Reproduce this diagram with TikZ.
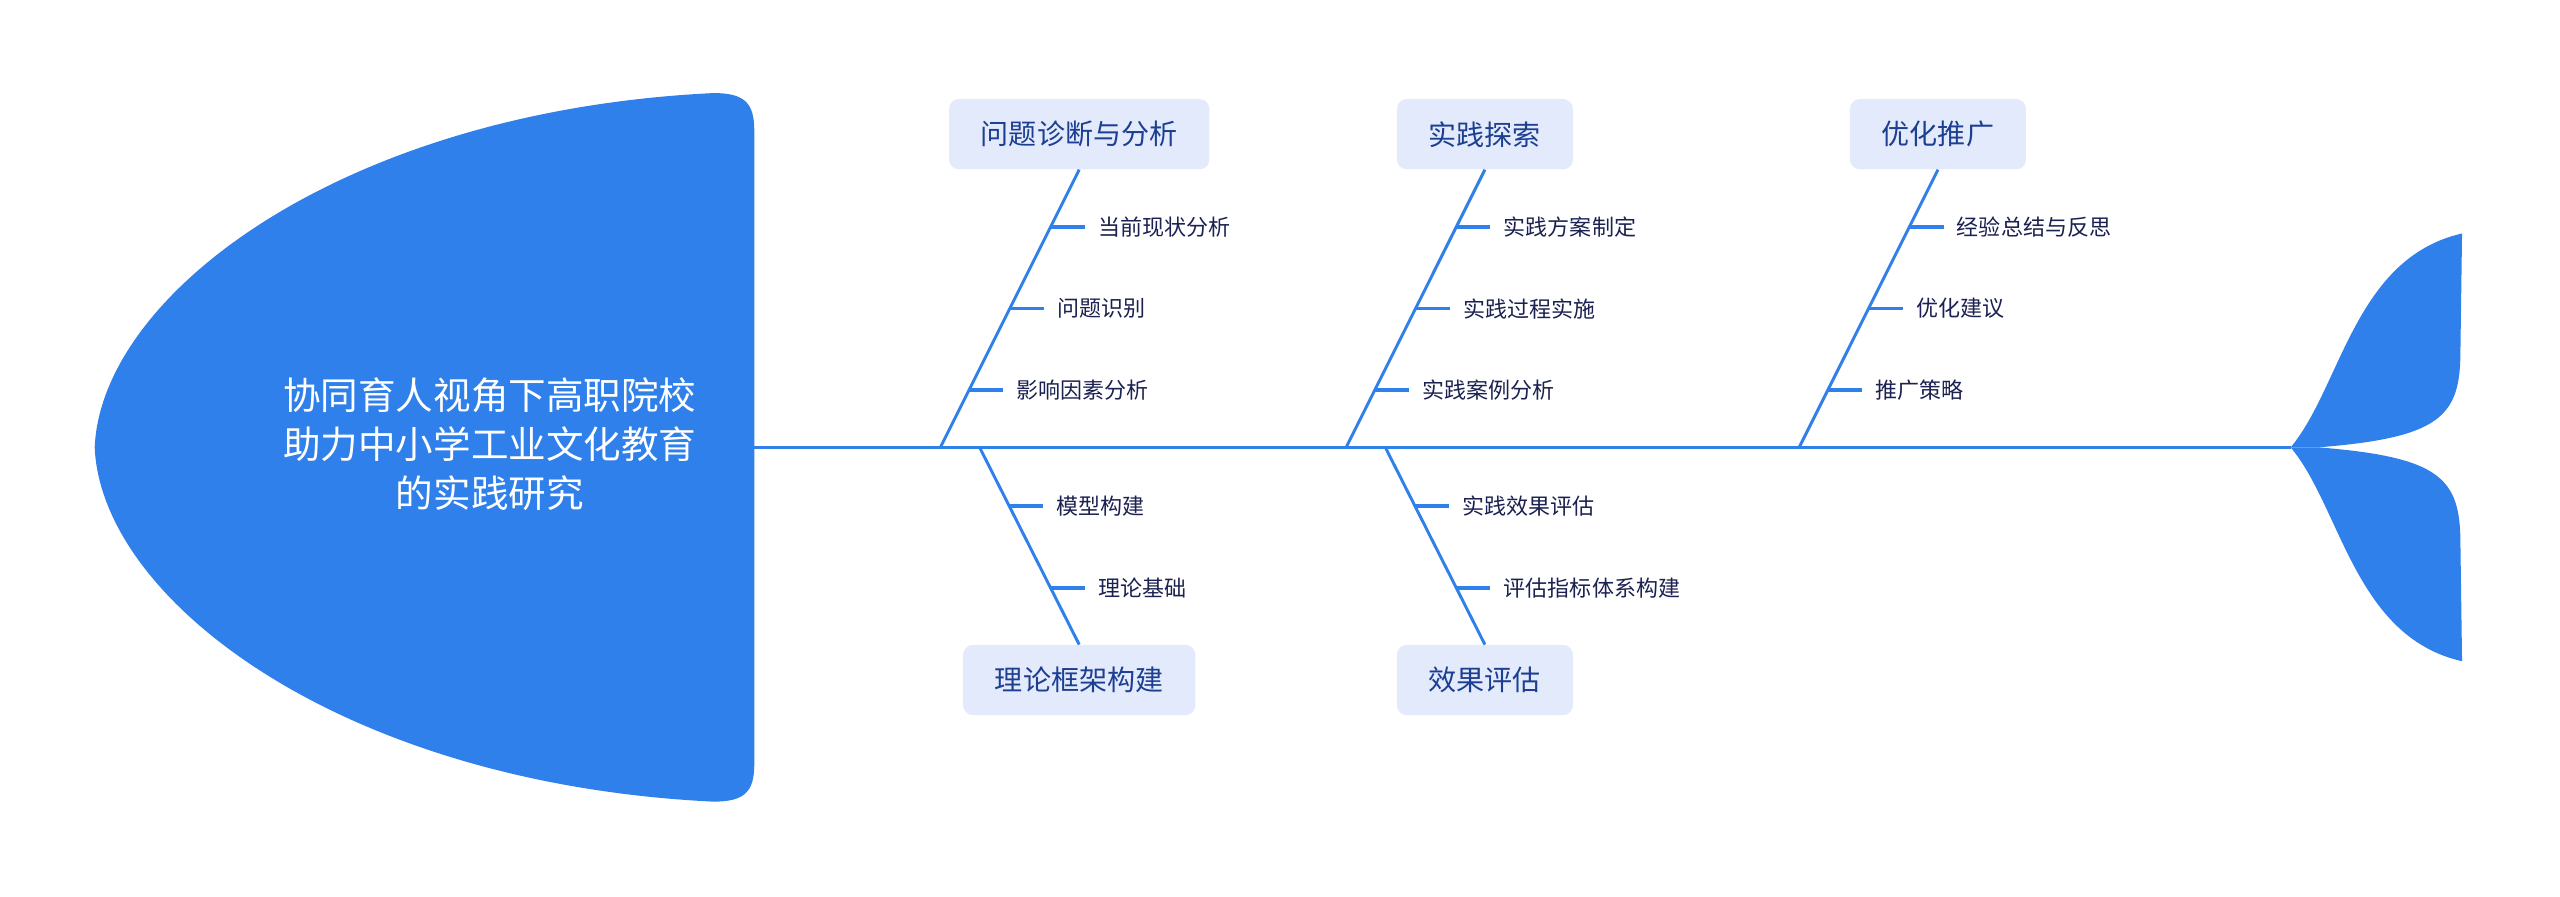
\documentclass[tikz,border=0pt]{standalone}
\usepackage{fontspec}
\setmainfont{Noto Sans CJK SC}
\usetikzlibrary{positioning}

\definecolor{fishblue}{HTML}{2F80EA}
\definecolor{bonelight}{HTML}{E3EAFB}
\definecolor{bonetext}{HTML}{1D3F92}
\definecolor{leaftext}{HTML}{1B2150}

\tikzset{
	bone/.style={draw=fishblue,line width=1.8pt},
	tick/.style={draw=fishblue,line width=2.2pt},
	catbox/.style={fill=bonelight,text=bonetext,rounded corners=6pt,minimum height=43pt,inner xsep=19.5pt,font=\fontsize{17.2}{20}\selectfont},
	leaf/.style={text=leaftext,inner sep=0pt,font=\fontsize{13.5}{16}\selectfont},
}

\begin{document}
\begin{tikzpicture}[x=1pt,y=-1pt]
	\def\sy{274} %height of spine
	\def\ax{661} \def\bx{909.5} \def\cx{1187} %columns of the bones
	\useasboundingbox (0,0) rectangle (1568,549);

	%HEAD
	\fill[fishblue] (58,\sy) .. controls (62,180) and (210,68) .. (437,57) .. controls (456,57) and (462,63) .. (462,80) -- (462,468) .. controls (462,485) and (456,491) .. (437,491) .. controls (210,480) and (62,368) .. (58,\sy) -- cycle;
	\node[align=center,text=white,font=\fontsize{23}{30}\selectfont] (head) at (300,272) {协同育人视角下高职院校\\助力中小学工业文化教育\\的实践研究};

	%SPINE AND TAIL
	\coordinate (neck) at (462,\sy);
	\coordinate (tail) at (1403,\sy);
	\draw[bone,line width=2pt] (neck) -- (tail);
	\fill[fishblue] (tail) .. controls (1434,237) and (1442,158) .. (1508,143) -- (1507,215) .. controls (1507,255) and (1495,268) .. (1420,\sy) -- cycle;
	\fill[fishblue] (tail) .. controls (1434,311) and (1442,390) .. (1508,405) -- (1507,333) .. controls (1507,293) and (1495,280) .. (1420,\sy) -- cycle;

	%MAIN BONES
	\node[catbox] (wt) at (\ax,82.2) {问题诊断与分析};
	\node[catbox] (sj) at (\bx,82.2) {实践探索};
	\node[catbox] (yh) at (\cx,82.2) {优化推广};
	\node[catbox] (ll) at (\ax,416.5) {理论框架构建};
	\node[catbox] (xg) at (\bx,416.5) {效果评估};
	\coordinate (wt0) at (\ax-85,\sy);
	\coordinate (sj0) at (\bx-85,\sy);
	\coordinate (yh0) at (\cx-85,\sy);
	\coordinate (ll0) at (\ax-61,\sy);
	\coordinate (xg0) at (\bx-61,\sy);
	\draw[bone] (wt0) -- (wt.south);
	\draw[bone] (sj0) -- (sj.south);
	\draw[bone] (yh0) -- (yh.south);
	\draw[bone] (ll0) -- (ll.north);
	\draw[bone] (xg0) -- (xg.north);

	%SMALL BONES (upper side)
	\coordinate (wt1) at (\ax-17.6,139);
	\coordinate (wt2) at (\ax-42.6,189);
	\coordinate (wt3) at (\ax-67.5,239);
	\node[leaf,right=29pt of wt1] (wt1l) {当前现状分析};
	\node[leaf,right=29pt of wt2] (wt2l) {问题识别};
	\node[leaf,right=29pt of wt3] (wt3l) {影响因素分析};
	\draw[tick] (wt1) -- ([xshift=-8pt]wt1l.west);
	\draw[tick] (wt2) -- ([xshift=-8pt]wt2l.west);
	\draw[tick] (wt3) -- ([xshift=-8pt]wt3l.west);
	%
	\coordinate (sj1) at (\bx-17.6,139);
	\coordinate (sj2) at (\bx-42.6,189);
	\coordinate (sj3) at (\bx-67.5,239);
	\node[leaf,right=29pt of sj1] (sj1l) {实践方案制定};
	\node[leaf,right=29pt of sj2] (sj2l) {实践过程实施};
	\node[leaf,right=29pt of sj3] (sj3l) {实践案例分析};
	\draw[tick] (sj1) -- ([xshift=-8pt]sj1l.west);
	\draw[tick] (sj2) -- ([xshift=-8pt]sj2l.west);
	\draw[tick] (sj3) -- ([xshift=-8pt]sj3l.west);
	%
	\coordinate (yh1) at (\cx-17.6,139);
	\coordinate (yh2) at (\cx-42.6,189);
	\coordinate (yh3) at (\cx-67.5,239);
	\node[leaf,right=29pt of yh1] (yh1l) {经验总结与反思};
	\node[leaf,right=29pt of yh2] (yh2l) {优化建议};
	\node[leaf,right=29pt of yh3] (yh3l) {推广策略};
	\draw[tick] (yh1) -- ([xshift=-8pt]yh1l.west);
	\draw[tick] (yh2) -- ([xshift=-8pt]yh2l.west);
	\draw[tick] (yh3) -- ([xshift=-8pt]yh3l.west);

	%SMALL BONES (lower side)
	\coordinate (ll1) at (\ax-42.9,310);
	\coordinate (ll2) at (\ax-17.6,360);
	\node[leaf,right=29pt of ll1] (ll1l) {模型构建};
	\node[leaf,right=29pt of ll2] (ll2l) {理论基础};
	\draw[tick] (ll1) -- ([xshift=-8pt]ll1l.west);
	\draw[tick] (ll2) -- ([xshift=-8pt]ll2l.west);
	%
	\coordinate (xg1) at (\bx-42.9,310);
	\coordinate (xg2) at (\bx-17.6,360);
	\node[leaf,right=29pt of xg1] (xg1l) {实践效果评估};
	\node[leaf,right=29pt of xg2] (xg2l) {评估指标体系构建};
	\draw[tick] (xg1) -- ([xshift=-8pt]xg1l.west);
	\draw[tick] (xg2) -- ([xshift=-8pt]xg2l.west);
\end{tikzpicture}
\end{document}
